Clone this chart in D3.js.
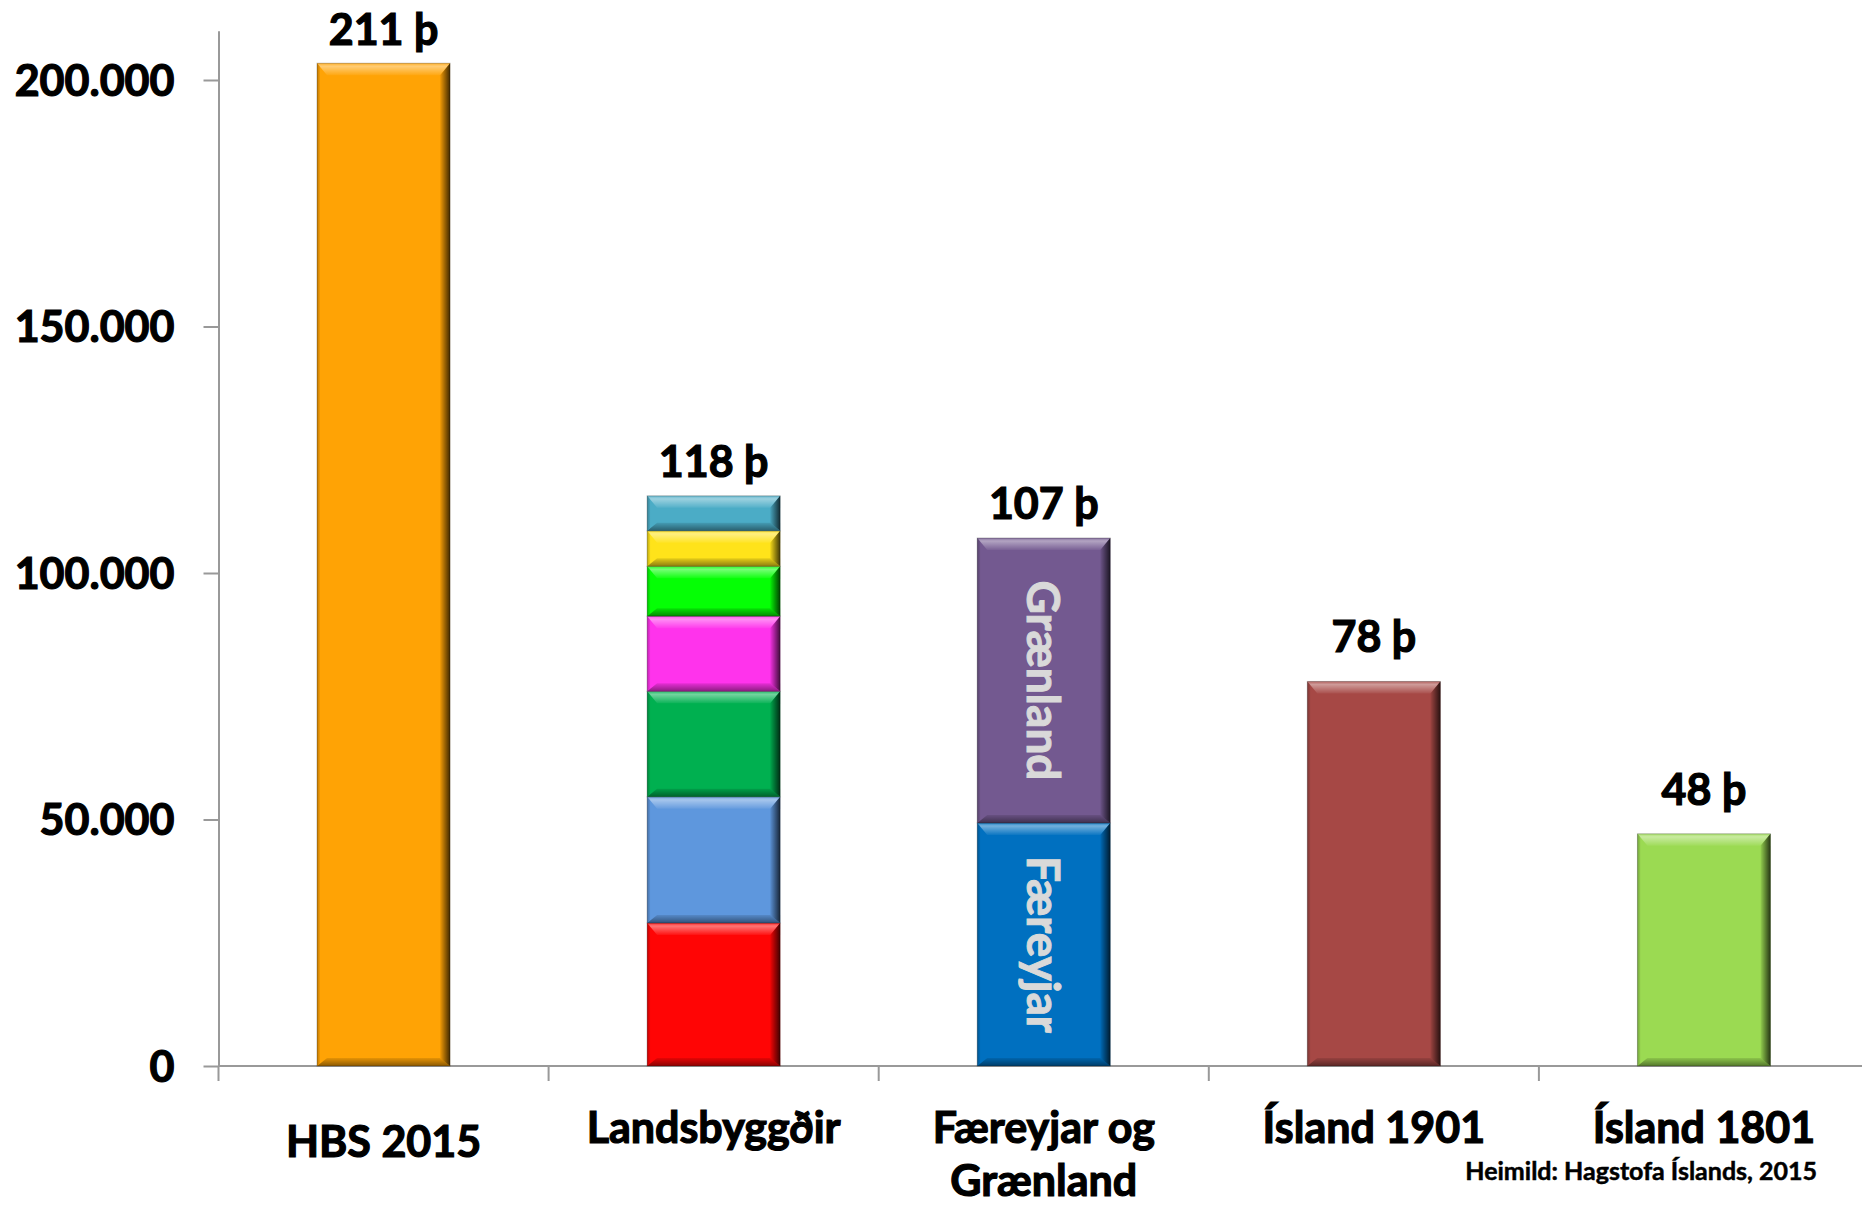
<!DOCTYPE html>
<html>
<head>
<meta charset="utf-8">
<script src="https://cdn.jsdelivr.net/npm/d3@7"></script>
<style>
  body { margin: 0; background: #fff; }
  text { font-family: Lato, "Open Sans", sans-serif; font-weight: 700; }
  text.heavy { stroke: #000; stroke-width: 1.2px; paint-order: stroke; }
</style>
</head>
<body>
<div id="vis"></div>
<script>
var width = 1862,
    height = 1207;

// categories and the totals written above the bars
var categories = ["HBS 2015", "Landsbyggðir", "Færeyjar og Grænland", "Ísland 1901", "Ísland 1801"];
var totalLabels = ["211 þ", "118 þ", "107 þ", "78 þ", "48 þ"];

// single bars
var hbsValue = [203400];
var island1901 = [78000];
var island1801 = [47100];

// landsbyggðir, stacked bottom to top
var regionValues = [29000, 25600, 21400, 15250, 10100, 7200, 7100];
var regionColors = ["#ff0505", "#5e97dd", "#00b050", "#ff33ec", "#05ff05", "#ffe31a", "#4bacc6"];

// færeyjar og grænland, bottom to top
var nordicNames = ["Færeyjar", "Grænland"];
var nordicValues = [49300, 57800];
var nordicColors = ["#0070c0", "#735990"];

var yTicks = [0, 50000, 100000, 150000, 200000];
var source = "Heimild: Hagstofa Íslands, 2015";

function seg(color, name) {
    return function(v, i) {
        return {value: v, color: Array.isArray(color) ? color[i] : color, name: name ? name[i] : null};
    };
}

var stacks = [
    hbsValue.map(seg("#ffa305")),
    regionValues.map(seg(regionColors)),
    nordicValues.map(seg(nordicColors, nordicNames)),
    island1901.map(seg("#a64845")),
    island1801.map(seg("#9bda52"))
];

stacks.forEach(function(s, i) {
    var acc = 0;
    s.forEach(function(d) {
        d.cat = categories[i];
        d.y0 = acc;
        acc += d.value;
        d.y1 = acc;
    });
});

var svg = d3.select('#vis').append('svg')
    .attr("width", width)
    .attr("height", height);

svg.append("rect").attr("width", width).attr("height", height).attr("fill", "#fff");

var x = d3.scaleBand()
    .domain(categories)
    .range([218.5, 1869])
    .paddingInner(0.597)
    .paddingOuter(0.2985);

var y = d3.scaleLinear()
    .domain([0, 210000])
    .range([1066, 30.7]);

// bevel gradients (bounding box units so they fit any segment)
var defs = svg.append("defs");
function grad(id, x1, y1, x2, y2, stops) {
    var g = defs.append("linearGradient").attr("id", id)
        .attr("x1", x1).attr("y1", y1).attr("x2", x2).attr("y2", y2);
    stops.forEach(function(s) {
        g.append("stop").attr("offset", s[0]).attr("stop-color", s[1]).attr("stop-opacity", s[2]);
    });
}
grad("bevTop", 0, 0, 0, 1, [[0, "#fff", 0.15], [0.25, "#fff", 0.45], [1, "#fff", 0.05]]);
grad("bevRight", 0, 0, 1, 0, [[0, "#000", 0.05], [1, "#000", 0.75]]);
grad("bevBottom", 0, 0, 0, 1, [[0, "#000", 0.1], [1, "#000", 0.45]]);
grad("bevLeft", 0, 0, 1, 0, [[0, "#000", 0.25], [1, "#000", 0.05]]);

// axes
var yAxis = d3.axisLeft(y)
    .tickValues(yTicks)
    .tickSize(15)
    .tickSizeOuter(0)
    .tickPadding(29)
    .tickFormat(function(d) { return d3.format(",")(d).replace(/,/g, "."); });

var gy = svg.append("g")
    .attr("transform", "translate(218.5,0)")
    .call(yAxis);
gy.selectAll("path, line").attr("stroke", "#999").attr("stroke-width", 2);
gy.selectAll("text").attr("class", "heavy").attr("font-size", 43).attr("fill", "#000").attr("dy", "0.36em");

// category axis line and boundary ticks
svg.append("line")
    .attr("x1", 218.5).attr("x2", width)
    .attr("y1", y(0)).attr("y2", y(0))
    .attr("stroke", "#999").attr("stroke-width", 2);

svg.selectAll("line.xtick")
    .data(categories)
    .enter().append("line")
    .attr("class", "xtick")
    .attr("x1", function(d) { return x(d) - x.step() * x.paddingInner() / 2; })
    .attr("x2", function(d) { return x(d) - x.step() * x.paddingInner() / 2; })
    .attr("y1", y(0)).attr("y2", y(0) + 15)
    .attr("stroke", "#999").attr("stroke-width", 2);

// bars
var all = [].concat.apply([], stacks);
var bw = x.bandwidth();

var segs = svg.selectAll("g.seg")
    .data(all)
    .enter().append("g")
    .attr("class", "seg");

segs.each(function(d) {
    var g = d3.select(this);
    var x0 = x(d.cat), x1 = x0 + bw;
    var t = y(d.y1), b = y(d.y0);
    var bv = Math.min(12, (b - t) / 2.5);
    var bs = Math.min(10, (b - t) / 3);
    g.append("rect")
        .attr("x", x0).attr("y", t)
        .attr("width", bw).attr("height", b - t)
        .attr("fill", d.color);
    var pts = function(a) { return a.map(function(p) { return p.join(","); }).join(" "); };
    g.append("polygon").attr("fill", "url(#bevTop)")
        .attr("points", pts([[x0, t], [x1, t], [x1 - bs, t + bv], [x0 + bs, t + bv]]));
    g.append("polygon").attr("fill", "url(#bevBottom)")
        .attr("points", pts([[x0 + bs, b - bs * 0.8], [x1 - bs, b - bs * 0.8], [x1, b], [x0, b]]));
    g.append("polygon").attr("fill", "url(#bevRight)")
        .attr("points", pts([[x1 - bs, t + bv], [x1, t], [x1, b], [x1 - bs, b - bs * 0.8]]));
    g.append("polygon").attr("fill", "url(#bevLeft)")
        .attr("points", pts([[x0, t], [x0 + 3, t + 3], [x0 + 3, b - 3], [x0, b]]));
    g.append("rect")
        .attr("x", x0).attr("y", t)
        .attr("width", bw).attr("height", b - t)
        .attr("fill", "none").attr("stroke", "rgba(0,0,0,0.25)").attr("stroke-width", 1);
});

// names written inside the nordic segments
svg.selectAll("text.inner")
    .data(all.filter(function(d) { return d.name; }))
    .enter().append("text")
    .attr("class", "inner")
    .attr("transform", function(d) {
        return "translate(" + (x(d.cat) + bw / 2) + "," + ((y(d.y0) + y(d.y1)) / 2) + ") rotate(90)";
    })
    .attr("text-anchor", "middle")
    .attr("dy", "0.36em")
    .attr("font-size", 46)
    .attr("fill", "#d9d9d9")
    .attr("stroke", "#d9d9d9")
    .attr("stroke-width", 1)
    .text(function(d) { return d.name; });

// totals above bars
svg.selectAll("text.total")
    .data(stacks)
    .enter().append("text")
    .attr("class", "total heavy")
    .attr("x", function(s, i) { return x(categories[i]) + bw / 2; })
    .attr("y", function(s) {
        var top = y(s[s.length - 1].y1);
        var gap = s.length > 1 ? 19 : 29;
        return Math.max(45, top - gap);
    })
    .attr("text-anchor", "middle")
    .attr("font-size", 43)
    .attr("fill", "#000")
    .text(function(s, i) { return totalLabels[i]; });

// category labels, wrapped
svg.selectAll("text.cat")
    .data(categories)
    .enter().append("text")
    .attr("class", "cat heavy")
    .attr("x", function(d) { return x(d) + bw / 2; })
    .attr("y", function(d, i) { return i === 0 ? 1157 : 1143; })
    .attr("text-anchor", "middle")
    .attr("font-size", 43)
    .attr("fill", "#000")
    .each(function(d) {
        var el = d3.select(this);
        var words = d.split(" "), line = [];
        var cx = el.attr("x");
        var ts = el.append("tspan").attr("x", cx);
        words.forEach(function(w) {
            line.push(w);
            ts.text(line.join(" "));
            if (ts.node().getComputedTextLength() > 300 && line.length > 1) {
                line.pop();
                ts.text(line.join(" "));
                line = [w];
                ts = el.append("tspan").attr("x", cx).attr("dy", 53).text(w);
            }
        });
    });

svg.append("text")
    .attr("x", 1817)
    .attr("y", 1180)
    .attr("text-anchor", "end")
    .attr("font-size", 25)
    .attr("fill", "#000")
    .attr("stroke", "#000")
    .attr("stroke-width", 0.5)
    .text(source);
</script>
</body>
</html>
